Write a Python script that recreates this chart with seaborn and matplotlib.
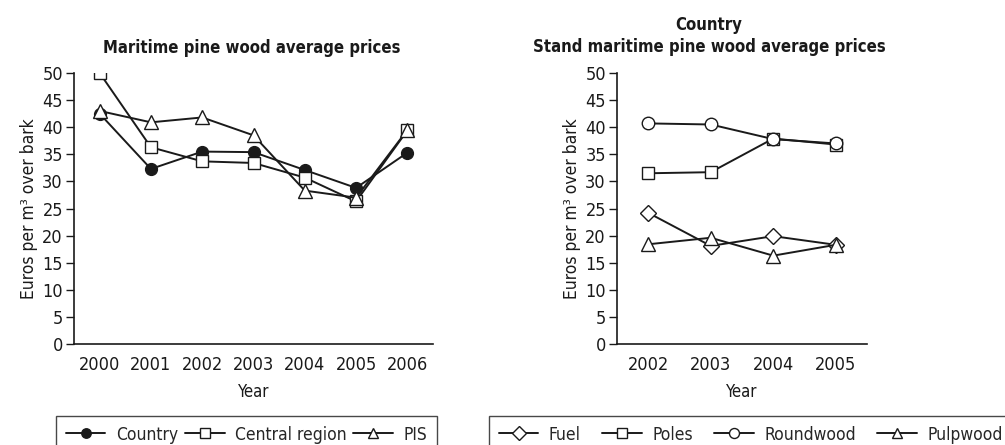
import numpy as np
import pandas as pd
import matplotlib
matplotlib.use("Agg")
import matplotlib.pyplot as plt
import seaborn as sns

# data
years_left = ["2000", "2001", "2002", "2003", "2004", "2005", "2006"]
country = [42.5, 32.3, 35.5, 35.4, 32.1, 28.8, 35.3]
central_region = [50.0, 36.3, 33.7, 33.4, 30.7, 26.3, 39.4]
pis = [43.0, 40.9, 41.8, 38.5, 28.3, 27.0, 39.5]

years_right = ["2002", "2003", "2004", "2005"]
fuel = [24.2, 18.1, 19.9, 18.3]
poles = [31.5, 31.7, 37.9, 36.8]
roundwood = [40.7, 40.5, 37.8, 37.0]
pulpwood = [18.4, 19.6, 16.3, 18.3]

sns.set_style("white")
plt.rcParams["font.family"] = ["DejaVu Sans"]
plt.rcParams["font.stretch"] = "condensed"

INK = "#1a1a1a"

fig = plt.figure(figsize=(10.05, 4.45), dpi=100)
ax1 = fig.add_axes([74 / 1005, 1 - 344 / 445, (433 - 74) / 1005, (344 - 73) / 445])
ax2 = fig.add_axes([617 / 1005, 1 - 344 / 445, (867 - 617) / 1005, (344 - 73) / 445])


def draw(ax, years, series):
    x = np.arange(len(years))
    for name, vals, mk, fc, ms in series:
        sns.lineplot(x=x, y=vals, ax=ax, color=INK, lw=1.4, marker=mk,
                     markersize=ms, markerfacecolor=fc, markeredgecolor=INK,
                     markeredgewidth=1.0, label=name, legend=False)
    ax.set_xlim(-0.5, len(years) - 0.5)
    ax.set_ylim(0, 50)
    ax.set_yticks(range(0, 51, 5))
    ax.set_xticks(x)
    ax.set_xticklabels(years)
    ax.set_xticks(np.arange(len(years) + 1) - 0.5, minor=True)
    ax.tick_params(axis="x", which="major", length=0, labelsize=13, pad=9, colors=INK)
    ax.tick_params(axis="x", which="minor", length=7, width=1, color=INK, direction="out")
    ax.tick_params(axis="y", length=6, width=1, color=INK, direction="out",
                   labelsize=13, pad=2, labelcolor=INK, left=True)
    for s in ["top", "right"]:
        ax.spines[s].set_visible(False)
    for s in ["left", "bottom"]:
        ax.spines[s].set_color(INK)
        ax.spines[s].set_linewidth(1.2)
    ax.set_xlabel("Year", fontsize=12, color=INK, labelpad=6)
    ax.set_ylabel("Euros per m³ over bark", fontsize=12.5, color=INK, labelpad=3)


draw(ax1, years_left, [
    ("Country", country, "o", INK, 8.5),
    ("Central region", central_region, "s", "white", 8.5),
    ("PIS", pis, "^", "white", 9.5),
])
draw(ax2, years_right, [
    ("Fuel", fuel, "D", "white", 8.5),
    ("Poles", poles, "s", "white", 8.5),
    ("Roundwood", roundwood, "o", "white", 9),
    ("Pulpwood", pulpwood, "^", "white", 9.5),
])

fig.text(252 / 1005, 1 - 48 / 445, "Maritime pine wood average prices",
         ha="center", va="center", fontsize=12, fontweight="bold", color=INK)
fig.text(709 / 1005, 1 - 36 / 445, "Country\nStand maritime pine wood average prices",
         ha="center", va="center", fontsize=12, fontweight="bold", color=INK,
         linespacing=1.35)

for ax, x0, x1 in [(ax1, 56, 437), (ax2, 489, 1012)]:
    h, l = ax.get_legend_handles_labels()
    leg = fig.legend(h, l, loc="upper left",
                     bbox_to_anchor=(x0 / 1005, 1 - 416 / 445, (x1 - x0) / 1005, 0.0),
                     mode="expand", borderaxespad=0,
                     ncol=len(l), frameon=True, fontsize=12.5, handlelength=2.3,
                     handletextpad=0.6, borderpad=0.55,
                     fancybox=False, markerscale=0.8)
    leg.get_frame().set_edgecolor(INK)
    leg.get_frame().set_linewidth(1.0)

fig.savefig("out.png", dpi=100)
